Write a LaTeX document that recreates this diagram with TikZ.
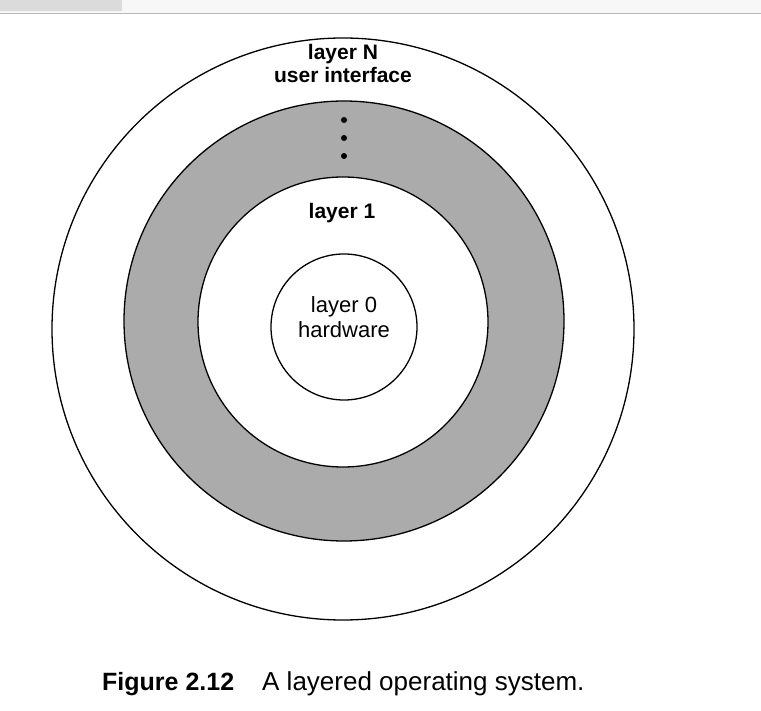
\documentclass[tikz,border=0pt]{standalone}
\usepackage{fontspec}
\setmainfont{Liberation Sans}
\usetikzlibrary{positioning}

\begin{document}
\begin{tikzpicture}[
    x=1pt, y=-1pt,
    ring/.style={draw=black, line width=1.3pt},
    shade/.style={ring, fill=black!33},
    boldlabel/.style={font=\fontsize{21}{24}\selectfont\bfseries, anchor=base, inner sep=0pt},
    plainlabel/.style={font=\fontsize{22}{25}\selectfont, anchor=base, inner sep=0pt},
    dot/.style={circle, fill=black, inner sep=0pt, minimum size=6pt}
]
    \useasboundingbox (0,0) rectangle (761,711);
    \fill[white] (0,0) rectangle (761,711);

    % window strip on top
    \fill[black!3] (0,0) rectangle (761,13);
    \fill[black!14] (0,0) rectangle (122,11);
    \draw[black!28, line width=1pt] (0,14) -- (761,14);

    % layers
    \draw[ring, fill=white] (343,329) circle[radius=291pt];
    \draw[shade] (344,321) circle[radius=220pt];
    \draw[ring, fill=white] (343,322) circle[radius=145pt];
    \draw[ring, fill=white] (344,327) circle[radius=73pt];

    \node[boldlabel] (layerN) at (343,60) {layer N};
    \node[boldlabel] (ui) at (343,83) {user interface};
    \node[dot] (d1) at (344,120) {};
    \node[dot] (d2) at (344,138) {};
    \node[dot] (d3) at (344,156) {};
    \node[boldlabel] (layer1) at (342,219) {layer 1};
    \node[plainlabel] (layer0) at (344,313) {layer 0};
    \node[plainlabel] (hw) at (344,338) {hardware};

    % caption
    \node[anchor=base west, inner sep=0pt, font=\fontsize{25}{28}\selectfont\bfseries] (fig) at (102,690) {Figure 2.12};
    \node[anchor=base west, inner sep=0pt, font=\fontsize{26}{29}\selectfont] (cap) at (262,690) {A layered operating system.};
\end{tikzpicture}
\end{document}
